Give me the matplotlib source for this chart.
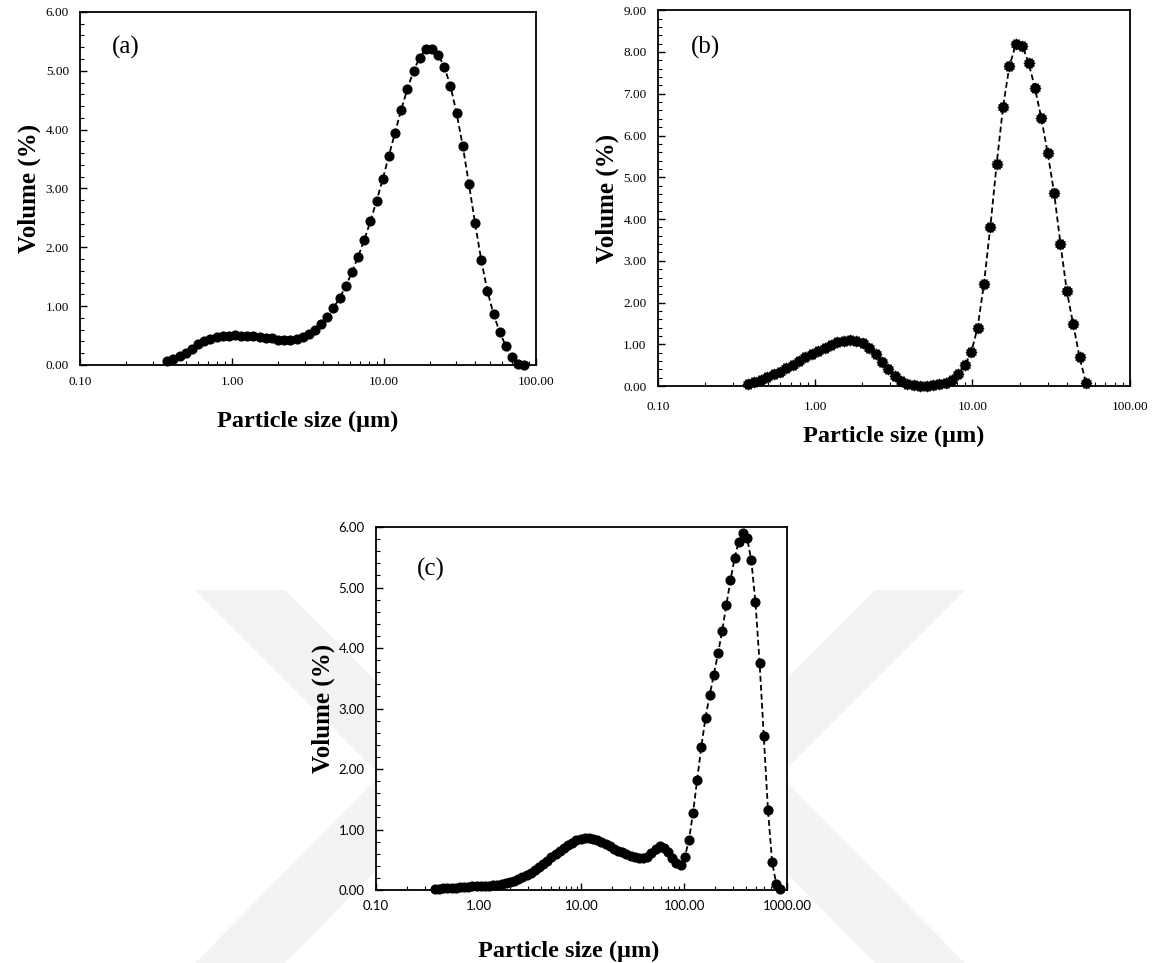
import matplotlib.pyplot as plt
from matplotlib.path import Path
from matplotlib.patches import Polygon
from matplotlib.ticker import FixedLocator, LogLocator, MultipleLocator, NullFormatter

# channel sizes (um) of the particle size analyser
sizes = [0.375, 0.412, 0.452, 0.496, 0.545, 0.598, 0.656, 0.721, 0.791, 0.868,
         0.953, 1.047, 1.149, 1.261, 1.385, 1.520, 1.669, 1.832, 2.010, 2.207,
         2.423, 2.660, 2.920, 3.205, 3.519, 3.863, 4.240, 4.655, 5.110, 5.610,
         6.158, 6.760, 7.421, 8.147, 8.943, 9.818, 10.78, 11.83, 12.99, 14.26,
         15.65, 17.18, 18.86, 20.71, 22.73, 24.95, 27.39, 30.07, 33.01, 36.24,
         39.78, 43.67, 47.94, 52.62, 57.77, 63.41, 69.61, 76.42, 83.89, 92.09,
         101.1, 111.0, 121.8, 133.7, 146.8, 161.2, 176.9, 194.2, 213.2, 234.1,
         256.9, 282.1, 309.6, 339.9, 373.1, 409.6, 449.7, 493.6, 541.9, 594.9,
         653.0, 716.8, 786.9, 863.9]

vol_a = [0.06, 0.10, 0.15, 0.21, 0.28, 0.35, 0.40, 0.44, 0.47, 0.49,
         0.50, 0.51, 0.50, 0.50, 0.49, 0.48, 0.46, 0.45, 0.43, 0.42,
         0.42, 0.44, 0.48, 0.53, 0.60, 0.69, 0.81, 0.97, 1.14, 1.34,
         1.58, 1.84, 2.13, 2.44, 2.79, 3.16, 3.56, 3.95, 4.34, 4.69,
         5.00, 5.22, 5.37, 5.37, 5.27, 5.07, 4.74, 4.28, 3.72, 3.07,
         2.41, 1.78, 1.26, 0.86, 0.56, 0.32, 0.13, 0.02, 0.00]

vol_b = [0.06, 0.10, 0.15, 0.21, 0.28, 0.35, 0.43, 0.51, 0.60, 0.69,
         0.77, 0.85, 0.92, 0.99, 1.05, 1.09, 1.11, 1.09, 1.03, 0.92,
         0.77, 0.59, 0.41, 0.25, 0.13, 0.06, 0.02, 0.01, 0.01, 0.02,
         0.04, 0.08, 0.15, 0.29, 0.51, 0.81, 1.40, 2.45, 3.82, 5.33,
         6.69, 7.67, 8.18, 8.15, 7.74, 7.14, 6.41, 5.58, 4.63, 3.41,
         2.27, 1.48, 0.69, 0.08]

vol_c = [0.02, 0.02, 0.03, 0.03, 0.04, 0.04, 0.05, 0.05, 0.05, 0.06,
         0.06, 0.06, 0.07, 0.07, 0.08, 0.09, 0.10, 0.11, 0.13, 0.15,
         0.18, 0.21, 0.24, 0.28, 0.33, 0.38, 0.43, 0.48, 0.54, 0.59,
         0.64, 0.69, 0.74, 0.78, 0.82, 0.84, 0.86, 0.86, 0.85, 0.83,
         0.80, 0.76, 0.72, 0.68, 0.65, 0.62, 0.59, 0.57, 0.55, 0.53,
         0.53, 0.55, 0.61, 0.68, 0.72, 0.70, 0.63, 0.53, 0.45, 0.42,
         0.54, 0.82, 1.27, 1.82, 2.37, 2.85, 3.22, 3.56, 3.91, 4.28,
         4.71, 5.12, 5.49, 5.76, 5.90, 5.82, 5.45, 4.76, 3.75, 2.55,
         1.33, 0.47, 0.10, 0.02]

serif = ["Liberation Serif", "DejaVu Serif"]
sans = ["Lato", "DejaVu Sans"]

gear = Path.unit_regular_star(12, 0.75)

W, H = 1160, 963
fig = plt.figure(figsize=(11.6, 9.63), dpi=100)

# faint watermark behind the lower panel
bg = fig.add_axes([0, 0, 1, 1], zorder=-5)
bg.set_xlim(0, W)
bg.set_ylim(H, 0)
bg.axis("off")
left_chevron = [(195, 590), (285, 590), (470, 775), (285, 963), (195, 963), (380, 775)]
right_chevron = [(W - x, y) for x, y in left_chevron]
for pts in (left_chevron, right_chevron):
    bg.add_patch(Polygon(pts, closed=True, color="#f3f3f3", lw=0))


def panel(rect, vol, ymax, xticks, tag, tagpos, marker, ms, tickfam, xpad, labx, laby):
    ax = fig.add_axes(rect)
    ax.plot(sizes[:len(vol)], vol, color="black", lw=1.3, ls=(0, (3.2, 1.8)),
            marker=marker, ms=ms, mfc="black", mec="black", clip_on=False)
    ax.set_xscale("log")
    ax.set_xlim(xticks[0], xticks[-1])
    ax.set_ylim(0, ymax)
    ax.xaxis.set_major_locator(FixedLocator(xticks))
    ax.xaxis.set_minor_locator(LogLocator(base=10, subs=range(2, 10)))
    ax.xaxis.set_minor_formatter(NullFormatter())
    ax.set_xticklabels(["%.2f" % t for t in xticks], family=tickfam, fontsize=9.5)
    ax.yaxis.set_minor_locator(MultipleLocator(0.2))
    ax.set_yticks(range(0, int(ymax) + 1))
    ax.set_yticklabels(["%.2f" % t for t in range(0, int(ymax) + 1)],
                       family=tickfam, fontsize=9.5)
    ax.tick_params(which="both", direction="in", color="black")
    ax.tick_params(which="major", length=5, width=1)
    ax.tick_params(which="minor", length=3, width=0.8)
    ax.tick_params(axis="x", pad=xpad)
    ax.tick_params(axis="y", pad=8)
    for s in ax.spines.values():
        s.set_linewidth(1.3)
        s.set_color("black")
    ax.set_xlabel("Particle size (\u00b5m)", family=serif, fontweight="bold",
                  fontsize=17.5)
    ax.xaxis.set_label_coords(labx, laby)
    ax.set_ylabel("Volume (%)", family=serif, fontweight="bold",
                  fontsize=18, labelpad=3)
    ax.text(tagpos[0], tagpos[1], tag, transform=ax.transAxes, family=serif,
            fontsize=18, va="center", ha="left")
    return ax


panel([0.069, 0.621, 0.393, 0.3666], vol_a, 6, [0.1, 1, 10, 100], "(a)",
      (0.07, 0.9), "o", 6.3, serif, 8, 0.5, -0.13)
panel([0.567, 0.599, 0.407, 0.3904], vol_b, 9, [0.1, 1, 10, 100], "(b)",
      (0.07, 0.9), gear, 7.5, serif, 11, 0.5, -0.105)
panel([0.3241, 0.0758, 0.3543, 0.3769], vol_c, 6, [0.1, 1, 10, 100, 1000], "(c)",
      (0.1, 0.884), "o", 6.3, sans, 7, 0.47, -0.14)

fig.savefig("out.png", dpi=100, facecolor="white")
